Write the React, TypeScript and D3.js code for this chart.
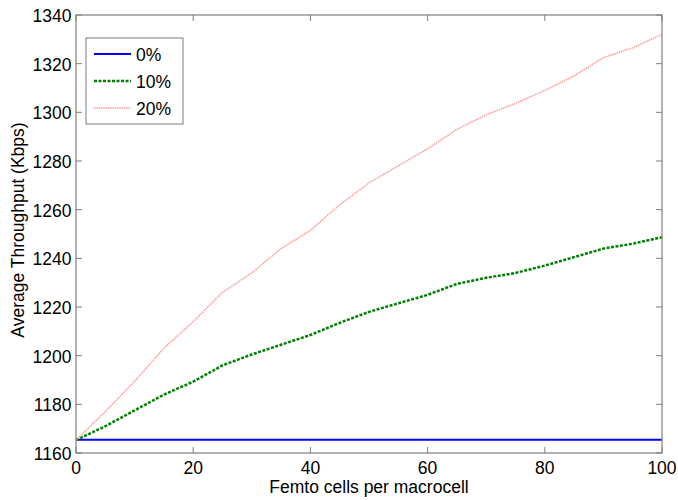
import React from "react";
import * as d3 from "d3";

const xValues = [0, 5, 10, 15, 20, 25, 30, 35, 40, 45, 50, 55, 60, 65, 70, 75, 80, 85, 90, 95, 100];
const series0 = [1165.4, 1165.4, 1165.4, 1165.4, 1165.4, 1165.4, 1165.4, 1165.4, 1165.4, 1165.4, 1165.4, 1165.4, 1165.4, 1165.4, 1165.4, 1165.4, 1165.4, 1165.4, 1165.4, 1165.4, 1165.4];
const series10 = [1165.3, 1171, 1177.5, 1184, 1189.3, 1196, 1200.5, 1204.5, 1208.5, 1213.5, 1218, 1221.5, 1225, 1229.5, 1232, 1234, 1237, 1240.5, 1244, 1246, 1248.7];
const series20 = [1165.3, 1177, 1189.5, 1203, 1214, 1226, 1234, 1244, 1251.5, 1262, 1271, 1278, 1285, 1293, 1299, 1303.7, 1309, 1315, 1322.5, 1326.5, 1332];
const seriesNames = ["0%", "10%", "20%"];
const xTicks = [0, 20, 40, 60, 80, 100];
const yTicks = [1160, 1180, 1200, 1220, 1240, 1260, 1280, 1300, 1320, 1340];

const W = 678, H = 500;
const L = 76, R = 662, T = 15, B = 453;

export default function App() {
  const x = d3.scaleLinear().domain([0, 100]).range([L, R]);
  const y = d3.scaleLinear().domain([1160, 1340]).range([B, T]);
  const mk = (vals: number[]) =>
    d3.line<number>().x((_, i) => x(xValues[i])).y((v) => y(v))(vals) || "";
  const styles = [
    { stroke: "#0000ff", width: 2, dash: undefined as string | undefined },
    { stroke: "#008000", width: 2.5, dash: "3,1.5" },
    { stroke: "#ff9a9a", width: 1.5, dash: "1.5,0.8" },
  ];
  const data = [series0, series10, series20];
  const axisColor = "#7f7f7f";
  const font = "'Liberation Sans', Arial, sans-serif";
  const fs = 17.5;
  return (
    <svg width={W} height={H} style={{ position: "absolute", left: 0, top: 0, background: "#fff" }} fontFamily={font}>
      <rect x={0} y={0} width={W} height={H} fill="#fff" />
      {data.map((d, i) => (
        <path key={i} d={mk(d)} fill="none" stroke={styles[i].stroke} strokeWidth={styles[i].width} strokeDasharray={styles[i].dash} />
      ))}
      <rect x={L} y={T} width={R - L} height={B - T} fill="none" stroke={axisColor} strokeWidth={1.2} />
      {xTicks.map((t) => (
        <g key={"x" + t}>
          <line x1={x(t)} x2={x(t)} y1={B} y2={B - 6} stroke={axisColor} />
          <line x1={x(t)} x2={x(t)} y1={T} y2={T + 6} stroke={axisColor} />
          <text x={x(t)} y={B + 20.5} textAnchor="middle" fontSize={fs} fill="#000">{t}</text>
        </g>
      ))}
      {yTicks.map((t) => (
        <g key={"y" + t}>
          <line x1={L} x2={L + 6} y1={y(t)} y2={y(t)} stroke={axisColor} />
          <line x1={R} x2={R - 6} y1={y(t)} y2={y(t)} stroke={axisColor} />
          <text x={L - 4.5} y={y(t) + 7} textAnchor="end" fontSize={fs} fill="#000">{t}</text>
        </g>
      ))}
      <text x={369} y={492.5} textAnchor="middle" fontSize={fs} fill="#000">Femto cells per macrocell</text>
      <text transform={`translate(24,230) rotate(-90)`} textAnchor="middle" fontSize={fs} fill="#000">Average Throughput (Kbps)</text>
      <rect x={86} y={38} width={97} height={86} fill="#fff" stroke={axisColor} strokeWidth={1} />
      {seriesNames.map((n, i) => (
        <g key={n}>
          <line x1={94} x2={131} y1={54 + i * 27} y2={54 + i * 27} stroke={styles[i].stroke} strokeWidth={styles[i].width} strokeDasharray={styles[i].dash} />
          <text x={136} y={54 + i * 27 + 6.5} fontSize={fs} fill="#000">{n}</text>
        </g>
      ))}
    </svg>
  );
}
